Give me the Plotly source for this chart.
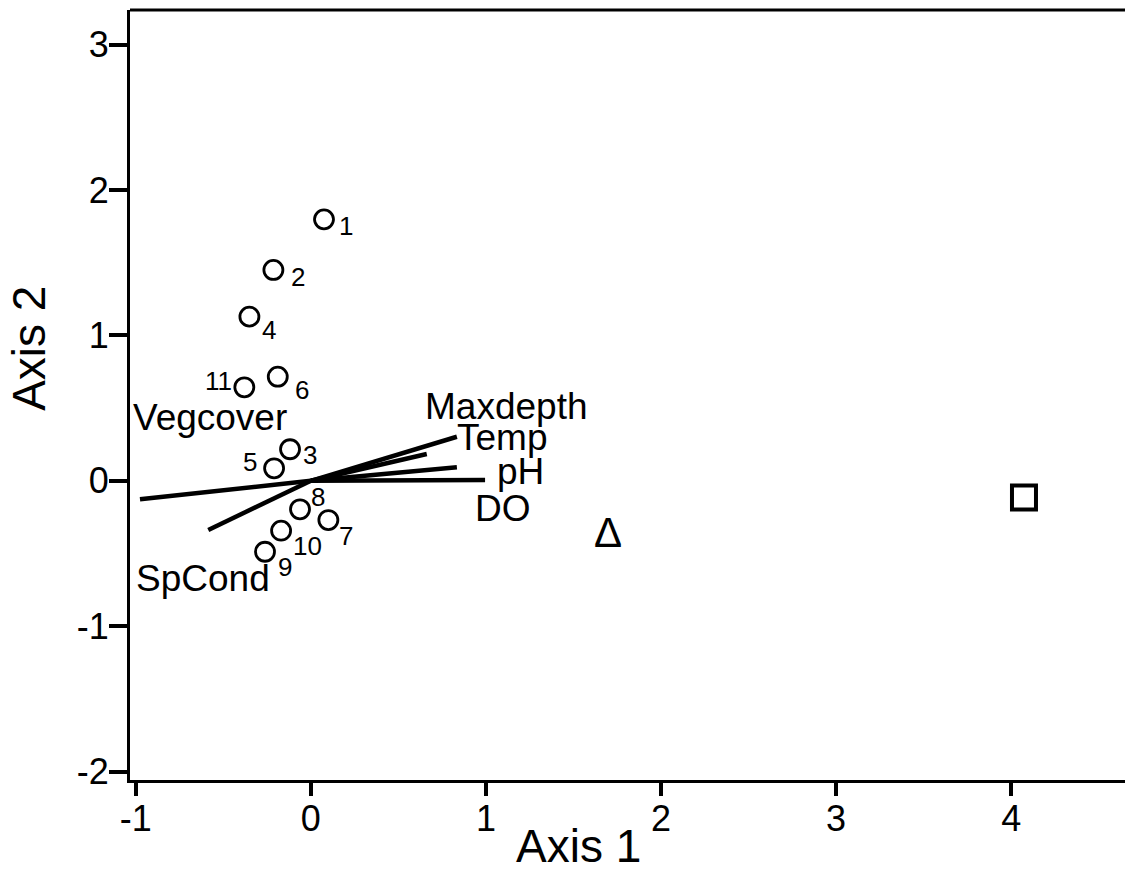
import plotly.graph_objects as go

# ---- data ----
site_labels = ["1", "2", "4", "11", "6", "3", "5", "8", "7", "10", "9"]
site_x = [0.075, -0.214, -0.351, -0.380, -0.189, -0.119, -0.210, -0.062, 0.100, -0.170, -0.262]
site_y = [1.798, 1.450, 1.129, 0.643, 0.716, 0.217, 0.086, -0.196, -0.270, -0.343, -0.488]
# label offsets (px) relative to each site marker
site_dx = [22, 25, 20, -26, 24, 20, -24, 18, 18, 26, 20]
site_dy = [7, 7, 13, -6, 13, 6, -6, -12, 16, 15, 15]

tri_x = [1.698]
tri_y = [-0.38]
sq_x = [4.073]
sq_y = [-0.115]

vec_names = ["Vegcover", "SpCond", "Maxdepth", "Temp", "pH", "DO"]
vec_x = [-0.976, -0.586, 0.834, 0.662, 0.834, 0.995]
vec_y = [-0.127, -0.338, 0.303, 0.184, 0.093, 0.005]
vec_label_x = [-0.576, -0.616, 1.115, 1.091, 1.195, 1.095]
vec_label_y = [0.432, -0.675, 0.514, 0.298, 0.063, -0.194]

x_ticks = [-1, 0, 1, 2, 3, 4]
x_tick_text = ["-1", "0", "1", "2", "3", "4"]
y_ticks = [-2, -1, 0, 1, 2, 3]
y_tick_text = ["-2", "-1", "0", "1", "2", "3"]

FONT = "Liberation Sans, Arial, sans-serif"

fig = go.Figure()

# biplot vectors
lx, ly = [], []
for ex, ey in zip(vec_x, vec_y):
    lx += [0, ex, None]
    ly += [0, ey, None]
fig.add_trace(go.Scatter(x=lx, y=ly, mode="lines",
                         line=dict(color="black", width=4.5), hoverinfo="skip"))

# sites
fig.add_trace(go.Scatter(x=site_x, y=site_y, mode="markers",
                         marker=dict(symbol="circle-open", size=19,
                                     line=dict(color="black", width=2.8), color="black")))
# triangle (delta glyph)
fig.add_trace(go.Scatter(x=tri_x, y=tri_y, mode="text", text=["Δ"],
                         textposition="middle center",
                         textfont=dict(family=FONT, size=42, color="black")))
# square
fig.add_trace(go.Scatter(x=sq_x, y=sq_y, mode="markers",
                         marker=dict(symbol="square-open", size=24,
                                     line=dict(color="black", width=4), color="black")))

ann = []
for t, x, y, dx, dy in zip(site_labels, site_x, site_y, site_dx, site_dy):
    ann.append(dict(x=x, y=y, xref="x", yref="y", text=t, showarrow=False,
                    xshift=dx, yshift=-dy, xanchor="center", yanchor="middle",
                    font=dict(family=FONT, size=26, color="black")))
for t, x, y in zip(vec_names, vec_label_x, vec_label_y):
    ann.append(dict(x=x, y=y, xref="x", yref="y", text=t, showarrow=False,
                    xanchor="center", yanchor="middle",
                    font=dict(family=FONT, size=37, color="black")))
# axis titles
ann.append(dict(x=0.451, y=-0.086, xref="paper", yref="paper", text="Axis 1",
                showarrow=False, xanchor="center", yanchor="middle",
                font=dict(family=FONT, size=46, color="black")))
ann.append(dict(x=-0.1015, y=0.56, xref="paper", yref="paper", text="Axis 2",
                showarrow=False, xanchor="center", yanchor="middle", textangle=-90,
                font=dict(family=FONT, size=46, color="black")))

fig.update_layout(
    width=1125, height=871,
    margin=dict(l=130, r=0, t=10, b=91),
    paper_bgcolor="white", plot_bgcolor="white",
    showlegend=False,
    annotations=ann,
    shapes=[dict(type="line", xref="paper", yref="paper", x0=0, x1=1, y0=1, y1=1,
                 line=dict(color="black", width=3))],
    xaxis=dict(range=[-1.033, 4.65], showgrid=False, zeroline=False,
               showline=True, linecolor="black", linewidth=3,
               ticks="outside", ticklen=13, tickwidth=4, tickcolor="black",
               tickvals=x_ticks, ticktext=x_tick_text, ticklabelstandoff=-8,
               tickfont=dict(family=FONT, size=36, color="black")),
    yaxis=dict(range=[-2.058, 3.238], showgrid=False, zeroline=False,
               showline=True, linecolor="black", linewidth=3,
               ticks="outside", ticklen=18, tickwidth=4, tickcolor="black",
               tickvals=y_ticks, ticktext=y_tick_text, ticklabelstandoff=-7,
               tickfont=dict(family=FONT, size=36, color="black")),
)

fig.write_html("out.html", config={"displayModeBar": False},
               post_script="document.body.style.margin='0';document.body.style.overflow='hidden';")
